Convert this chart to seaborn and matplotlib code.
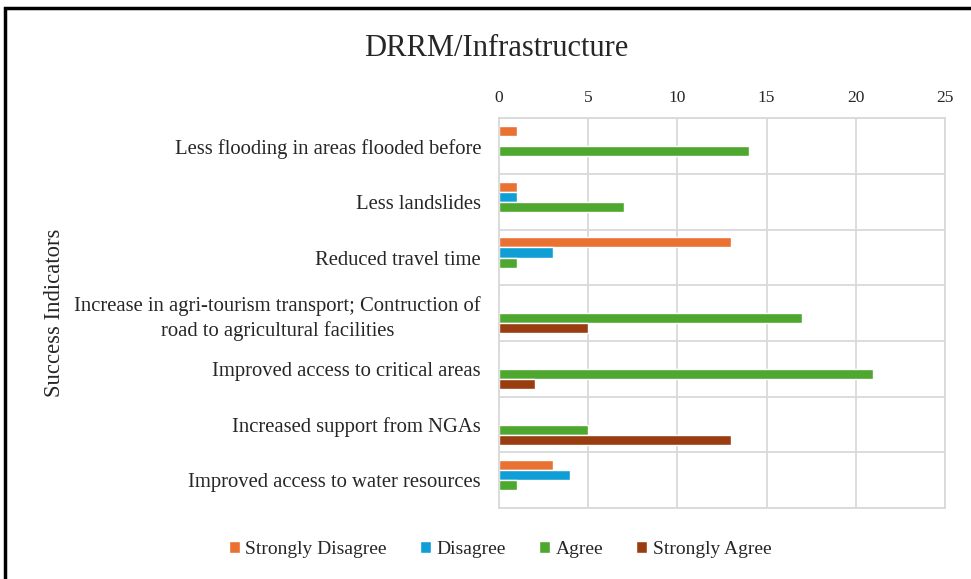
import matplotlib
matplotlib.use("Agg")
import matplotlib.pyplot as plt
import seaborn as sns
import pandas as pd
from matplotlib.patches import Rectangle

# data
indicators = [
    "Less flooding in areas flooded before",
    "Less landslides",
    "Reduced travel time",
    "Increase in agri-tourism transport; Contruction of\nroad to agricultural facilities",
    "Improved access to critical areas",
    "Increased support from NGAs",
    "Improved access to water resources",
]
responses = ["Strongly Disagree", "Disagree", "Agree", "Strongly Agree"]
strongly_disagree = [1, 1, 13, 0, 0, 0, 3]
disagree = [0, 1, 3, 0, 0, 0, 4]
agree = [14, 7, 1, 17, 21, 5, 1]
strongly_agree = [0, 0, 0, 5, 2, 13, 0]
colors = ["#E97132", "#0F9ED5", "#4EA72E", "#993D11"]

rows = []
for resp, vals in zip(responses, [strongly_disagree, disagree, agree, strongly_agree]):
    for ind, v in zip(indicators, vals):
        rows.append({"Indicator": ind, "Response": resp, "Count": v})
df = pd.DataFrame(rows)

sns.set_style("white")
plt.rcParams["font.family"] = ["Liberation Serif", "DejaVu Serif"]

fig = plt.figure(figsize=(9.71, 5.79), dpi=100)
ax = fig.add_axes([0.514, 0.1226, 0.459, 0.673])

sns.barplot(data=df, y="Indicator", x="Count", hue="Response", hue_order=responses,
            order=indicators, palette=colors, orient="h", width=0.72,
            saturation=1, errorbar=None, ax=ax)

ax.set_xlim(0, 25)
ax.set_xticks(range(0, 26, 5))
ax.xaxis.tick_top()
ax.tick_params(axis="x", length=0, pad=9, labelsize=12.5)
ax.tick_params(axis="y", length=0, pad=13, labelsize=14.9)
for lab in ax.get_yticklabels():
    lab.set_multialignment("center")
    lab.set_linespacing(1.35)
ax.set_xlabel("")
ax.set_ylabel("Success Indicators", fontsize=16.3)
ax.yaxis.set_label_coords(-0.975, 0.5)

ax.set_ylim(len(indicators) - 0.5, -0.5)
ax.grid(axis="x", color="#D9D9D9", linewidth=1.3)
for b in range(len(indicators) + 1):
    ax.axhline(b - 0.5, color="#D9D9D9", linewidth=1.3, zorder=0.5)
ax.set_axisbelow(True)
for s in ax.spines.values():
    s.set_color("#D9D9D9")
    s.set_linewidth(1.3)

fig.text(0.511, 0.917, "DRRM/Infrastructure", ha="center", va="center", fontsize=22)

handles, labels = ax.get_legend_handles_labels()
ax.legend(handles, labels, loc="center", bbox_to_anchor=(0.515, 0.051),
          bbox_transform=fig.transFigure, ncol=4, frameon=False, fontsize=14,
          handlelength=0.55, handleheight=0.55, handletextpad=0.3, columnspacing=1.7)

fig.patches.append(Rectangle((0.005, -0.01), 1.1, 0.996, transform=fig.transFigure,
                             fill=False, edgecolor="black", linewidth=2.5))

fig.savefig("out.png", dpi=100, facecolor="white")
